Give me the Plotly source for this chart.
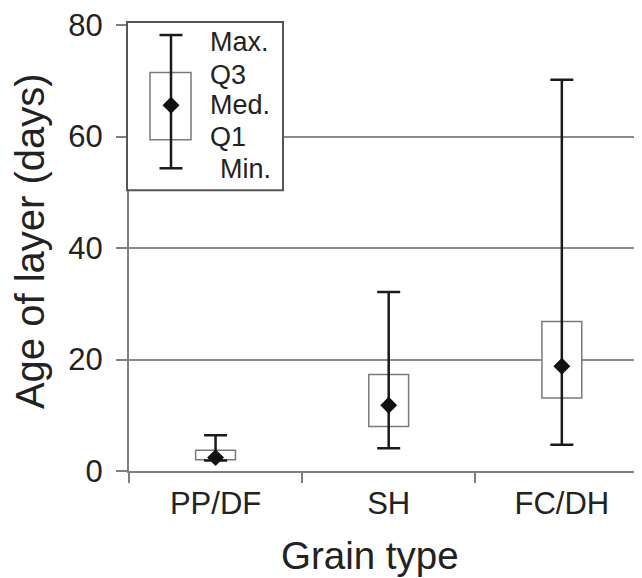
import plotly.graph_objects as go

# ---- data ----
categories = ["PP/DF", "SH", "FC/DH"]
v_min = [1.9, 4.1, 4.7]
v_q1 = [2.0, 8.0, 13.1]
v_med = [2.4, 11.8, 18.8]
v_q3 = [3.7, 17.3, 26.8]
v_max = [6.4, 32.1, 70.2]

y_ticks = [0, 20, 40, 60, 80]

# legend key (illustrative box on the y scale)
key_labels = ["Max.", "Q3", "Med.", "Q1", "Min."]
key_values = [78.2, 71.5, 65.6, 59.4, 54.3]   # max, q3, med, q1, min
key_label_y = [77.0, 71.1, 65.6, 60.0, 54.1]

FONT = "Liberation Sans, Arial, Helvetica, sans-serif"
TXT = "#222222"
GRAY = "#8a8a8a"

fig = go.Figure()

fig.add_trace(go.Bar(
    x=categories,
    y=[b - a for a, b in zip(v_q1, v_q3)],
    base=v_q1,
    width=0.23,
    marker=dict(color="white", line=dict(color="#7a7a7a", width=1.5)),
    hoverinfo="skip",
    showlegend=False,
))

fig.add_trace(go.Scatter(
    x=categories,
    y=v_med,
    mode="markers",
    marker=dict(symbol="diamond", size=13, color="#111111"),
    error_y=dict(
        type="data",
        symmetric=False,
        array=[mx - md for mx, md in zip(v_max, v_med)],
        arrayminus=[md - mn for md, mn in zip(v_med, v_min)],
        width=11.5,
        thickness=2.5,
        color="#1a1a1a",
    ),
    showlegend=False,
))

# ---- legend key drawn as shapes (screen pixel helpers) ----
L, W, T, H = 129.0, 513.0, 20.0, 451.0


def px(xp):
    return (xp - L) / W


def py(yp):
    return (T + H - yp) / H


shapes = []
shapes.append(dict(type="rect", xref="paper", yref="paper",
                   x0=px(127), x1=px(283), y0=py(187), y1=py(17),
                   line=dict(color="#555555", width=2), fillcolor="white",
                   layer="above"))
kx = px(171)
shapes.append(dict(type="rect", xref="paper", yref="y",
                   x0=px(150), x1=px(191), y0=key_values[3], y1=key_values[1],
                   line=dict(color="#7a7a7a", width=1.5), fillcolor="white",
                   layer="above"))
shapes.append(dict(type="line", xref="paper", yref="y",
                   x0=kx, x1=kx, y0=key_values[4], y1=key_values[0],
                   line=dict(color="#1a1a1a", width=2.5), layer="above"))
for v in (key_values[0], key_values[4]):
    shapes.append(dict(type="line", xref="paper", yref="y",
                       x0=kx - 11.5 / W, x1=kx + 11.5 / W, y0=v, y1=v,
                       line=dict(color="#1a1a1a", width=2.5), layer="above"))
hw = 8.5 / W
hh = 8.5 / (H / 80.0)
m = key_values[2]
shapes.append(dict(type="path", xref="paper", yref="y",
                   path=f"M {kx},{m + hh} L {kx + hw},{m} L {kx},{m - hh} L {kx - hw},{m} Z",
                   fillcolor="#111111", line=dict(color="#111111", width=0),
                   layer="above"))

annotations = []
for lab, yv in zip(key_labels, key_label_y):
    annotations.append(dict(
        text=lab, xref="paper", yref="y",
        x=px(218 if lab == "Min." else 208), y=yv,
        xanchor="left", yanchor="middle", showarrow=False,
        font=dict(family=FONT, size=27, color=TXT)))

annotations.append(dict(
    text="Age of layer (days)", xref="paper", yref="paper",
    x=px(30), y=py(238.5), textangle=-90,
    xanchor="center", yanchor="middle", showarrow=False,
    font=dict(family=FONT, size=40, color=TXT)))
annotations.append(dict(
    text="Grain type", xref="paper", yref="paper",
    x=px(370), y=py(556),
    xanchor="center", yanchor="middle", showarrow=False,
    font=dict(family=FONT, size=38.5, color=TXT)))

# the page body adds an 8px offset, so the figure is 8px smaller
fig.update_layout(
    width=634, height=570,
    margin=dict(l=121, r=0, t=12, b=107),
    paper_bgcolor="white", plot_bgcolor="white",
    font=dict(family=FONT, color=TXT),
    shapes=shapes, annotations=annotations,
    showlegend=False,
)

fig.update_xaxes(
    type="category",
    range=[-0.5, 2.463],
    tickson="boundaries",
    ticks="outside", ticklen=10, tickwidth=2, tickcolor="#7f7f7f",
    showline=True, linecolor="#7f7f7f", linewidth=2,
    showgrid=False, zeroline=False,
    tickfont=dict(family=FONT, size=31, color=TXT),
    ticklabelstandoff=4,
)

fig.update_yaxes(
    range=[0, 80],
    tickvals=y_ticks,
    ticks="outside", ticklen=11, tickwidth=2, tickcolor="#7f7f7f",
    showline=True, linecolor="#7f7f7f", linewidth=2,
    showgrid=True, gridcolor=GRAY, gridwidth=2,
    zeroline=False,
    tickfont=dict(family=FONT, size=31, color=TXT),
    ticklabelstandoff=7,
    ticklabeloverflow="allow",
)

fig.write_html("out.html")
